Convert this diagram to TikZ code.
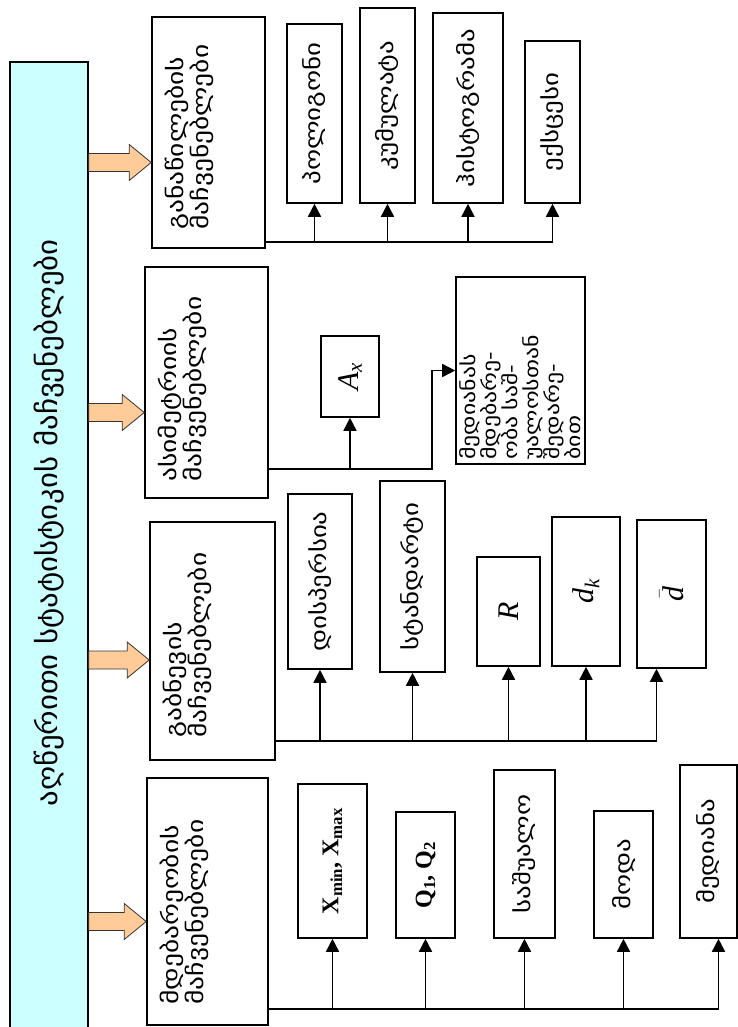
\documentclass[tikz,border=0pt]{standalone}
\usepackage{fontspec}
\setmainfont{Liberation Serif}
\newfontfamily\geo[Script=Georgian, FakeStretch=1.25]{DejaVu Sans}
\newfontfamily\geotitle[Script=Georgian, FakeStretch=1.1]{DejaVu Sans}
\usetikzlibrary{positioning, calc, arrows.meta}
\definecolor{titlefill}{HTML}{CCFFFF}
\definecolor{arrowfill}{HTML}{FFCC99}

\begin{document}
\begin{tikzpicture}[x=1pt, y=-1pt]
    % Define styles
    \tikzset{
        every node/.style={inner sep=0pt},
        title/.style={rectangle, draw, fill=titlefill, rotate=90, line width=1.2pt, font=\geotitle\fontsize{28}{30}\selectfont},
        group/.style={rectangle, draw, rotate=90, line width=1.6pt},
        grouptext/.style={rotate=90, align=left, anchor=north west, font=\geo\fontsize{22}{22}\selectfont},
        item/.style={rectangle, draw, rotate=90, line width=1.6pt, align=left, font=\geo\fontsize{21.5}{22}\selectfont},
        mathitem/.style={item, font=\rmfamily\itshape\fontsize{30}{32}\selectfont},
        latinitem/.style={item, font=\rmfamily\bfseries\fontsize{24}{26}\selectfont},
        bus/.style={line width=1.6pt},
        arrow/.style={-{Triangle[length=13pt, width=13pt]}, line width=1.6pt},
        block/.style={draw=black!80, fill=arrowfill, line width=0.8pt}
    }
    \useasboundingbox (0,0) rectangle (738,1027);

    % Title bar
    \node (title) [title, minimum width=968pt, minimum height=78pt] at (49,546) {\hspace*{46pt}აღწერითი სტატისტიკის მაჩვენებლები};

    % Group boxes
    \node (g4) [group, minimum width=231pt, minimum height=113pt] at (208.5,132.5) {};
    \node (g3) [group, minimum width=231pt, minimum height=123pt] at (206.5,382.5) {};
    \node (g2) [group, minimum width=238pt, minimum height=125pt] at (212.5,641) {};
    \node (g1) [group, minimum width=247pt, minimum height=121pt] at (207.5,901.5) {};

    \node (g4t) [grouptext] at ($(g4.north west)+(14,-19)$) {განაწილების\\მაჩვენებლები};
    \node (g3t) [grouptext] at ($(g3.north west)+(14,-17)$) {ასიმეტრიის\\მაჩვენებლები};
    \node (g2t) [grouptext] at ($(g2.north west)+(14,-23)$) {გაბნევის\\მაჩვენებლები};
    \node (g1t) [grouptext] at ($(g1.north west)+(14,-21)$) {მდებარეობის\\მაჩვენებლები};

    % Orange arrows from the title bar
    \foreach \g/\dy in {g4/-30, g3/-30, g2/-19, g1/-20} {
        \coordinate (tip) at ([yshift=\dy pt]\g.north);
        \coordinate (base) at (title.south |- tip);
        \draw[block] ($(base)+(0,-9)$) -- ($(tip)+(-22,-9)$) -- ($(tip)+(-22,-18)$) -- (tip)
            -- ($(tip)+(-22,18)$) -- ($(tip)+(-22,9)$) -- ($(base)+(0,9)$) -- cycle;
    }

    % Distribution
    \node (c4a) [item, minimum width=179pt, minimum height=55pt] at (314.5,113.5) {პოლიგონი};
    \node (c4b) [item, minimum width=195pt, minimum height=55pt] at (387.5,105.5) {კუმულატა};
    \node (c4c) [item, minimum width=190pt, minimum height=70pt] at (468,108) {ჰისტოგრამა};
    \node (c4d) [item, minimum width=162pt, minimum height=55pt] at (552.5,122) {ექსცესი};

    % Asymmetry
    \node (c3a) [mathitem, minimum width=81pt, minimum height=58pt] at (350,376.5) {A\textsubscript{x}};
    \node (med) [item, minimum width=187pt, minimum height=129pt, text width=178pt, font=\geo\fontsize{19}{21}\selectfont] at (520.5,370.5)
        {მედიანას\\მდებარე-\\ობა საშ-\\უალოსთან\\შედარე-\\ბით};

    % Dispersion
    \node (c2a) [item, minimum width=175pt, minimum height=64pt] at (320,581.5) {დისპერსია};
    \node (c2b) [item, minimum width=191pt, minimum height=65pt] at (412.5,576.5) {სტანდარტი};
    \node (c2c) [mathitem, minimum width=109pt, minimum height=63pt] at (508.5,611.5) {R};
    \node (c2d) [mathitem, minimum width=149pt, minimum height=68pt] at (586,591.5) {d\textsubscript{k}};
    \node (c2e) [mathitem, minimum width=148pt, minimum height=69pt] at (671.5,594) {$\bar{\mbox{\textit{d}}}$};

    % Location
    \node (c1a) [latinitem, minimum width=154pt, minimum height=69pt] at (332.5,861) {X\textsubscript{min}, X\textsubscript{max}};
    \node (c1b) [latinitem, minimum width=126pt, minimum height=59pt] at (425.5,875) {Q\textsubscript{1}, Q\textsubscript{2}};
    \node (c1c) [item, minimum width=168pt, minimum height=61pt] at (524.5,854) {საშუალო};
    \node (c1d) [item, minimum width=127pt, minimum height=59pt] at (623.5,874.5) {მოდა};
    \node (c1e) [item, minimum width=173pt, minimum height=57pt] at (708.5,851.5) {მედიანა};

    % Bus lines and arrows
    \coordinate (b4) at ([yshift=7pt]g4.south west);
    \draw[bus] (b4) -- (b4 -| c4d);
    \foreach \c in {c4a, c4b, c4c, c4d}
        \draw[arrow] (b4 -| \c) -- (\c.west);

    \coordinate (b3) at ([yshift=30pt]g3.south west);
    \draw[bus] (b3) -- (b3 -| c3a);
    \draw[arrow] (b3 -| c3a) -- (c3a.west);
    \draw[arrow] (b3) -| ([xshift=-23pt]med.north) -- (med.north);

    \coordinate (b2) at ([yshift=20pt]g2.south west);
    \coordinate (e2) at ([xshift=-15pt]c2e.west);
    \draw[bus] (b2) -- (b2 -| e2);
    \foreach \c in {c2a, c2b, c2c, c2d}
        \draw[arrow] (b2 -| \c) -- (\c.west);
    \draw[arrow] (b2 -| e2) -- (e2);

    \coordinate (b1) at ([yshift=17pt]g1.south west);
    \coordinate (e1) at ([xshift=10pt]c1e.west);
    \draw[bus] (b1) -- (b1 -| e1);
    \foreach \c in {c1a, c1b, c1c, c1d}
        \draw[arrow] (b1 -| \c) -- (\c.west);
    \draw[arrow] (b1 -| e1) -- (e1);

\end{tikzpicture}
\end{document}
